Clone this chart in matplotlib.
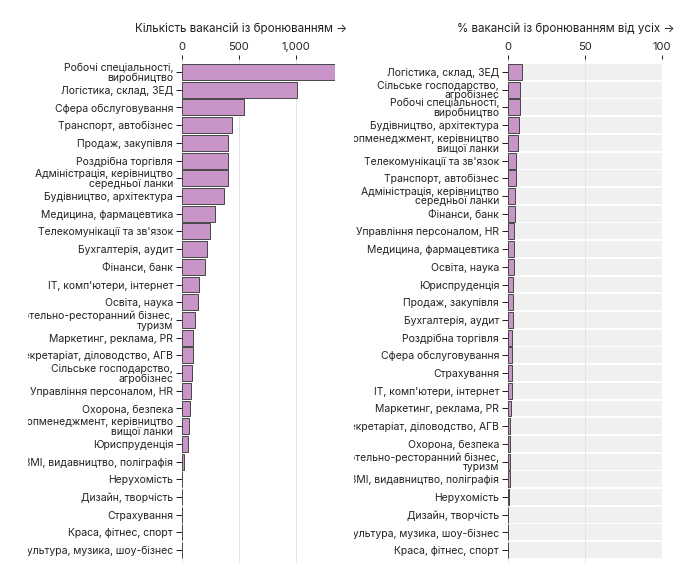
import matplotlib
matplotlib.use("Agg")
import matplotlib.pyplot as plt
from matplotlib.transforms import Bbox, TransformedBbox

plt.rcParams['font.family'] = ['Inter', 'DejaVu Sans']

cats_count = [
    "Робочі спеціальності,\nвиробництво",
    "Логістика, склад, ЗЕД",
    "Сфера обслуговування",
    "Транспорт, автобізнес",
    "Продаж, закупівля",
    "Роздрібна торгівля",
    "Адміністрація, керівництво\nсередньої ланки",
    "Будівництво, архітектура",
    "Медицина, фармацевтика",
    "Телекомунікації та зв'язок",
    "Бухгалтерія, аудит",
    "Фінанси, банк",
    "IT, комп'ютери, інтернет",
    "Освіта, наука",
    "Готельно-ресторанний бізнес,\nтуризм",
    "Маркетинг, реклама, PR",
    "Секретаріат, діловодство, АГВ",
    "Сільське господарство,\nагробізнес",
    "Управління персоналом, HR",
    "Охорона, безпека",
    "Топменеджмент, керівництво\nвищої ланки",
    "Юриспруденція",
    "ЗМІ, видавництво, поліграфія",
    "Нерухомість",
    "Дизайн, творчість",
    "Страхування",
    "Краса, фітнес, спорт",
    "Культура, музика, шоу-бізнес",
]
counts = [1342, 1005, 548, 443, 405, 404, 402, 373, 291, 245, 224, 207, 151, 146,
          119, 102, 99, 93, 81, 70, 61, 52, 20, 5, 4, 3, 3, 2]

cats_pct = [
    "Логістика, склад, ЗЕД",
    "Сільське господарство,\nагробізнес",
    "Робочі спеціальності,\nвиробництво",
    "Будівництво, архітектура",
    "Топменеджмент, керівництво\nвищої ланки",
    "Телекомунікації та зв'язок",
    "Транспорт, автобізнес",
    "Адміністрація, керівництво\nсередньої ланки",
    "Фінанси, банк",
    "Управління персоналом, HR",
    "Медицина, фармацевтика",
    "Освіта, наука",
    "Юриспруденція",
    "Продаж, закупівля",
    "Бухгалтерія, аудит",
    "Роздрібна торгівля",
    "Сфера обслуговування",
    "Страхування",
    "IT, комп'ютери, інтернет",
    "Маркетинг, реклама, PR",
    "Секретаріат, діловодство, АГВ",
    "Охорона, безпека",
    "Готельно-ресторанний бізнес,\nтуризм",
    "ЗМІ, видавництво, поліграфія",
    "Нерухомість",
    "Дизайн, творчість",
    "Культура, музика, шоу-бізнес",
    "Краса, фітнес, спорт",
]
pct = [9.5, 8.0, 7.8, 7.1, 6.5, 5.6, 5.4, 4.5, 4.5, 4.3, 4.1, 3.9, 3.7, 3.3, 3.2,
       3.1, 3.0, 2.8, 2.6, 1.9, 1.8, 1.4, 1.3, 1.2, 1.1, 0.4, 0.3, 0.2]

count_ticks = [0, 500, 1000]
count_tick_labels = ["0", "500", "1,000"]
pct_ticks = [0, 50, 100]
pct_tick_labels = ["0", "50", "100"]

title_count = "Кількість вакансій із бронюванням →"
title_pct = "% вакансій із бронюванням від усіх →"

# ---------------- layout / style ----------------
W, H = 700, 580
fig = plt.figure(figsize=(7, 5.8), dpi=100)
fig.patch.set_facecolor("white")

FILL = "#c994c7"
EDGE = "#4a4a4a"
TXT = "#222222"
GRID = "#e4e4e4"
PX = 0.72  # points per pixel at dpi 100

renderer = fig.canvas.get_renderer()


def fit_size(samples, base=10.0):
    """font size (pt) so that sample strings reach the given pixel widths"""
    measured = 0.0
    target = 0.0
    for s, w in samples:
        t = fig.text(0, 0, s, fontsize=base)
        measured += t.get_window_extent(renderer).width
        t.remove()
        target += w
    return base * target / measured


FS_LAB = 1.015 * fit_size([("Управління персоналом, HR", 143), ("Логістика, склад, ЗЕД", 111),
                           ("Медицина, фармацевтика", 131), ("Телекомунікації та зв'язок", 134),
                           ("Фінанси, банк", 71), ("Краса, фітнес, спорт", 105),
                           ("Маркетинг, реклама, PR", 122), ("Будівництво, архітектура", 128)])
FS_TITLE = fit_size([(title_count, 214), (title_pct, 220)])
FS_TICK = fit_size([("1,000", 31.7), ("500", 18.3)])

top_px, bot_px = 58.5, 562.5
row0_px, pitch_px = 72.0, 17.71
ylim_top = -(row0_px - top_px) / pitch_px
ylim_bot = ylim_top + (bot_px - top_px) / pitch_px


def make_ax(x0, x1):
    return fig.add_axes([x0 / W, 1 - bot_px / H, (x1 - x0) / W, (bot_px - top_px) / H])


def style(ax, ticks, ticklabels, cats, clip_x):
    n = len(cats)
    ax.set_ylim(ylim_bot, ylim_top)
    ax.set_yticks(range(n))
    ax.set_yticklabels(cats, fontsize=FS_LAB, color=TXT, linespacing=0.92)
    ax.set_xticks(ticks)
    ax.set_xticklabels(ticklabels, fontsize=FS_TICK, color=TXT)
    ax.xaxis.tick_top()
    ax.tick_params(axis='x', length=4 * PX, width=1 * PX, color=TXT, pad=3 * PX)
    ax.tick_params(axis='y', length=5.7 * PX, width=1 * PX, color=TXT, pad=3 * PX)
    for s in ax.spines.values():
        s.set_visible(False)
    ax.set_facecolor("none")
    ax.grid(axis='x', color=GRID, lw=1 * PX)
    ax.set_axisbelow(True)
    clip = TransformedBbox(Bbox([[clip_x / W, 0], [1, 1]]), fig.transFigure)
    for t in ax.get_yticklabels():
        t.set_clip_box(clip)
        t.set_clip_on(True)


# Left panel: counts
ax1 = make_ax(181.7, 181.7 + 1342 * 0.1143)
ax1.barh(range(len(counts)), counts, height=0.9, color=FILL, edgecolor=EDGE, lw=1 * PX, zorder=2)
ax1.set_xlim(0, 1342)
style(ax1, count_ticks, count_tick_labels, cats_count, 28)

# Right panel: percentages
ax2 = make_ax(507.7, 661.7)
ax2.barh(range(len(pct)), [100] * len(pct), height=0.9, color="#f0f0f0", lw=0, zorder=0.2)
ax2.barh(range(len(pct)), pct, height=0.9, color=FILL, edgecolor=EDGE, lw=1 * PX, zorder=2)
ax2.set_xlim(0, 100)
style(ax2, pct_ticks, pct_tick_labels, cats_pct, 354)

fig.text(347 / W, 1 - 29.3 / H, title_count, ha='right', va='center', fontsize=FS_TITLE, color=TXT)
fig.text(675 / W, 1 - 29.3 / H, title_pct, ha='right', va='center', fontsize=FS_TITLE, color=TXT)

fig.savefig("out.png", dpi=100, facecolor="white")
